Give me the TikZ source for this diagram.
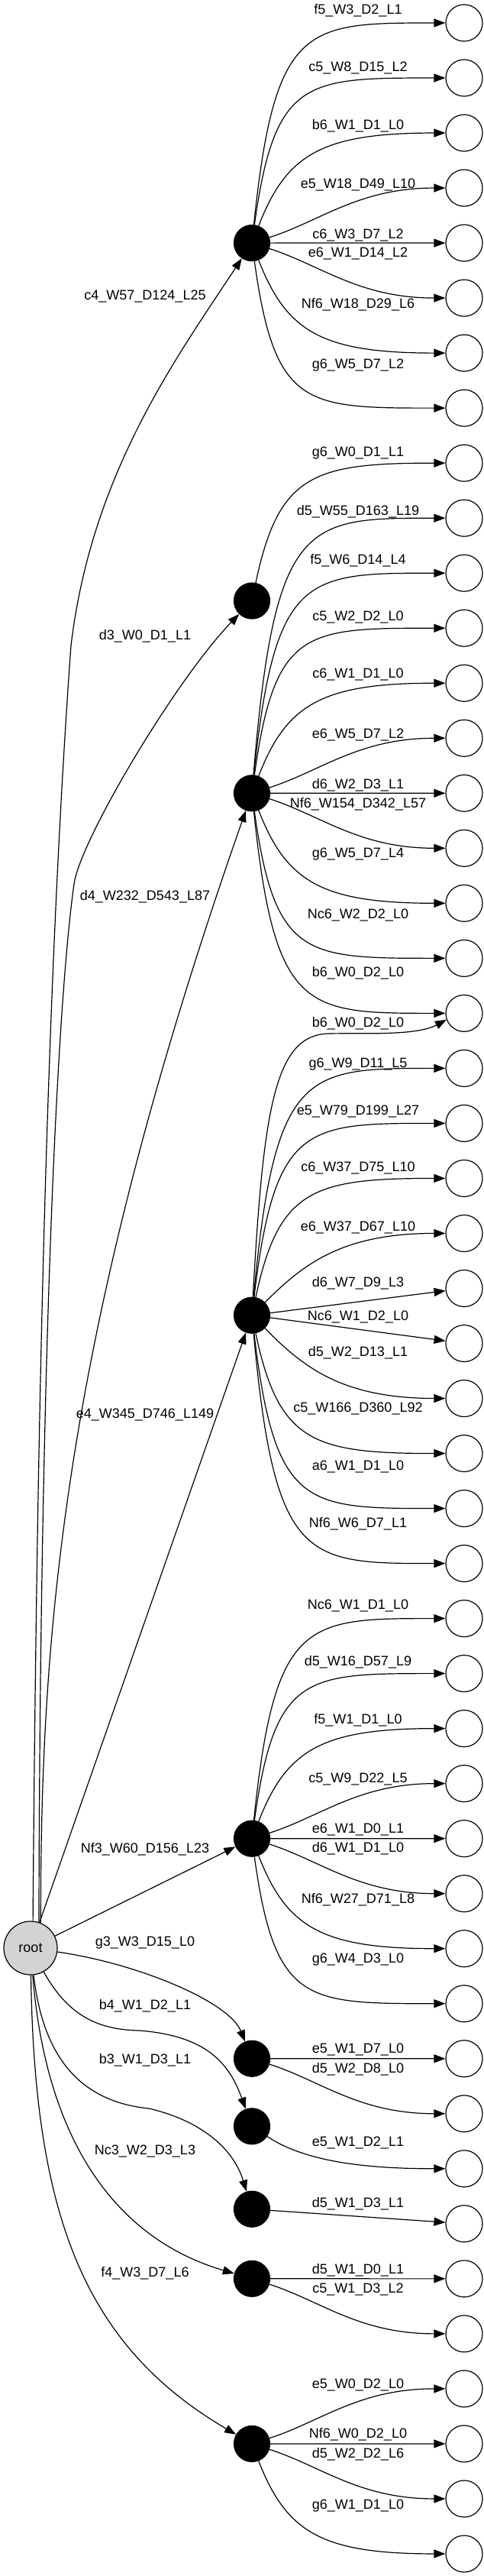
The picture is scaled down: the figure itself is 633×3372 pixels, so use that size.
\documentclass[tikz,border=0pt]{standalone}
\usepackage{fontspec}
\setmainfont{Liberation Sans}
\usetikzlibrary{arrows.meta}
\definecolor{rootgray}{HTML}{D3D3D3}
\tikzset{
  edge/.style={draw=black, line width=1.2pt, -{Triangle[length=15pt,width=11pt]}},
  leaf/.style={circle, draw=black, line width=1.2pt, fill=white, minimum size=48pt, inner sep=0pt},
  hub/.style={circle, draw=black, fill=black, line width=1.2pt, minimum size=47pt, inner sep=0pt},
  rootn/.style={circle, draw=black, line width=1.2pt, fill=rootgray, minimum size=70pt, inner sep=0pt, font=\fontsize{18}{20}\selectfont},
  lab/.style={inner sep=0pt, font=\fontsize{18}{20}\selectfont},
}
% hub -> leaf edge: #1 hub, #2 leaf index, #3 hub y, #4 P1x, #5 f, #6 P2x
\newcommand\hedge[6]{\draw[edge] (#1) .. controls ({#4},{30+72.02*#2+(#3-30-72.02*#2)*#5}) and ({#6},{30+72.02*#2}) .. (L#2);}
\newcommand\ecatA[3]{\hedge{#1}{#2}{#3}{420}{0.6}{470}}
\newcommand\ecatB[3]{\hedge{#1}{#2}{#3}{395}{0.4}{445}}
\newcommand\ecatC[3]{\hedge{#1}{#2}{#3}{375}{0.2}{420}}
\newcommand\ecatD[3]{\hedge{#1}{#2}{#3}{365}{0.08}{410}}
\newcommand\ecatE[3]{\hedge{#1}{#2}{#3}{360}{0}{400}}
\newcommand\rlab[3]{\node[lab] (#1) at (469,#2) {#3};}
\newcommand\llab[3]{\node[lab] (#1) at (190,#2) {#3};}
\begin{document}
\begin{tikzpicture}[x=1pt,y=-1pt]
\useasboundingbox (0,0) rectangle (633,3372);
% leaves
\foreach \i in {0,...,46} \node[leaf] (L\i) at (608,{30+72.02*\i}) {};
% hubs
\node[hub] (H1) at (330,318.1) {};
\node[hub] (H2) at (330,786.5) {};
\node[hub] (H3) at (330,1038.3) {};
\node[hub] (H4) at (330,1721.7) {};
\node[hub] (H5) at (330,2406.7) {};
\node[hub] (H6) at (330,2694.7) {};
\node[hub] (H7) at (330,2783.3) {};
\node[hub] (H8) at (330,2891.7) {};
\node[hub] (H9) at (330,2982.8) {};
\node[hub] (H10) at (330,3198.9) {};
% root
\node[rootn] (root) at (40,2550) {root};
% coordinates for multi-segment edges
\coordinate (c4m) at (93,845);
\coordinate (d3m) at (97,1157);
\coordinate (b4m) at (183,2658);
\coordinate (b3m) at (195,2760);
\coordinate (b6m) at (430,1353);

% root edges
\draw[edge] (root.85) .. controls (48,1900) and (60,1300) .. (c4m) .. controls (120,620) and (230,470) .. (H1);
\draw[edge] (root.72) .. controls (52,1900) and (70,1350) .. (d3m) .. controls (105,1100) and (230,890) .. (H2);
\draw[edge] (root.68) .. controls (53,2150) and (80,1750) .. (H3);
\draw[edge] (root) -- (H4);
\draw[edge] (root) -- (H5);
\draw[edge] (root) .. controls (180,2570) and (300,2620) .. (H6);
\draw[edge] (root) .. controls (90,2640) and (130,2657) .. (b4m) .. controls (270,2665) and (300,2700) .. (H7);
\draw[edge] (root) .. controls (55,2680) and (95,2750) .. (b3m) .. controls (260,2775) and (305,2810) .. (H8);
\draw[edge] (root) .. controls (60,2800) and (150,2930) .. (H9);
\draw[edge] (root) .. controls (45,2900) and (110,3070) .. (H10);

% H1
\ecatE{H1}{0}{318.1}
\ecatE{H1}{1}{318.1}
\ecatC{H1}{2}{318.1}
\ecatA{H1}{3}{318.1}
\draw[edge] (H1) -- (L4);
\ecatA{H1}{5}{318.1}
\ecatC{H1}{6}{318.1}
\ecatE{H1}{7}{318.1}
% H2
\ecatD{H2}{8}{786.5}
% H3
\ecatE{H3}{9}{1038.3}
\ecatE{H3}{10}{1038.3}
\ecatE{H3}{11}{1038.3}
\ecatC{H3}{12}{1038.3}
\ecatA{H3}{13}{1038.3}
\draw[edge] (H3) -- (L14);
\ecatA{H3}{15}{1038.3}
\ecatC{H3}{16}{1038.3}
\ecatE{H3}{17}{1038.3}
\ecatE{H3}{18}{1038.3}
% H4
\draw[edge] (H4) .. controls (345,1450) and (360,1355) .. (b6m) .. controls (480,1352) and (545,1356) .. (L18.200);
\ecatE{H4}{19}{1721.7}
\ecatE{H4}{20}{1721.7}
\ecatD{H4}{21}{1721.7}
\ecatB{H4}{22}{1721.7}
\draw[edge] (H4) -- (L23);
\draw[edge] (H4) -- (L24);
\ecatB{H4}{25}{1721.7}
\ecatD{H4}{26}{1721.7}
\ecatE{H4}{27}{1721.7}
\ecatE{H4}{28}{1721.7}
% H5
\ecatE{H5}{29}{2406.7}
\ecatE{H5}{30}{2406.7}
\ecatC{H5}{31}{2406.7}
\ecatA{H5}{32}{2406.7}
\draw[edge] (H5) -- (L33);
\ecatA{H5}{34}{2406.7}
\ecatC{H5}{35}{2406.7}
\ecatE{H5}{36}{2406.7}
% H6
\draw[edge] (H6) -- (L37);
\ecatA{H6}{38}{2694.7}
% H7
\hedge{H7}{39}{2783.3}{400}{0.16}{480}
% H8
\draw[edge] (H8) -- (L40);
% H9
\draw[edge] (H9) -- (L41);
\ecatA{H9}{42}{2982.8}
% H10
\ecatA{H10}{43}{3198.9}
\draw[edge] (H10) -- (L44);
\ecatA{H10}{45}{3198.9}
\ecatC{H10}{46}{3198.9}

% right labels
\rlab{r1}{14}{f5\_W3\_D2\_L1}
\rlab{r2}{89.3}{c5\_W8\_D15\_L2}
\rlab{r3}{164.3}{b6\_W1\_D1\_L0}
\rlab{r4}{242.3}{e5\_W18\_D49\_L10}
\rlab{r5}{307.7}{c6\_W3\_D7\_L2}
\rlab{r6}{332.3}{e6\_W1\_D14\_L2}
\rlab{r7}{399}{Nf6\_W18\_D29\_L6}
\rlab{r8}{478.3}{g6\_W5\_D7\_L2}
\rlab{r9}{593.3}{g6\_W0\_D1\_L1}
\rlab{r10}{670}{d5\_W55\_D163\_L19}
\rlab{r11}{734}{f5\_W6\_D14\_L4}
\rlab{r12}{808.3}{c5\_W2\_D2\_L0}
\rlab{r13}{883.3}{c6\_W1\_D1\_L0}
\rlab{r14}{961.7}{e6\_W5\_D7\_L2}
\rlab{r15}{1027.3}{d6\_W2\_D3\_L1}
\rlab{r16}{1052.3}{Nf6\_W154\_D342\_L57}
\rlab{r17}{1118.3}{g6\_W5\_D7\_L4}
\rlab{r18}{1197.7}{Nc6\_W2\_D2\_L0}
\rlab{r19}{1273.3}{b6\_W0\_D2\_L0}
\rlab{r20}{1339.3}{b6\_W0\_D2\_L0}
\rlab{r21}{1393.3}{g6\_W9\_D11\_L5}
\rlab{r22}{1455}{e5\_W79\_D199\_L27}
\rlab{r23}{1529.3}{c6\_W37\_D75\_L10}
\rlab{r24}{1606.7}{e6\_W37\_D67\_L10}
\rlab{r25}{1680}{d6\_W7\_D9\_L3}
\rlab{r26}{1724}{Nc6\_W1\_D2\_L0}
\rlab{r27}{1770.7}{d5\_W2\_D13\_L1}
\rlab{r28}{1844.3}{c5\_W166\_D360\_L92}
\rlab{r29}{1920}{a6\_W1\_D1\_L0}
\rlab{r30}{1995}{Nf6\_W6\_D7\_L1}
\rlab{r31}{2101.7}{Nc6\_W1\_D1\_L0}
\rlab{r32}{2176}{d5\_W16\_D57\_L9}
\rlab{r33}{2251.7}{f5\_W1\_D1\_L0}
\rlab{r34}{2329.3}{c5\_W9\_D22\_L5}
\rlab{r35}{2395}{e6\_W1\_D0\_L1}
\rlab{r36}{2420}{d6\_W1\_D1\_L0}
\rlab{r37}{2486.7}{Nf6\_W27\_D71\_L8}
\rlab{r38}{2565}{g6\_W4\_D3\_L0}
\rlab{r39}{2683.3}{e5\_W1\_D7\_L0}
\rlab{r40}{2708.3}{d5\_W2\_D8\_L0}
\rlab{r41}{2805}{e5\_W1\_D2\_L1}
\rlab{r42}{2884.3}{d5\_W1\_D3\_L1}
\rlab{r43}{2971.7}{d5\_W1\_D0\_L1}
\rlab{r44}{2996.7}{c5\_W1\_D3\_L2}
\rlab{r45}{3121.7}{e5\_W0\_D2\_L0}
\rlab{r46}{3186.7}{Nf6\_W0\_D2\_L0}
\rlab{r47}{3212.7}{d5\_W2\_D2\_L6}
\rlab{r48}{3280}{g6\_W1\_D1\_L0}
% left labels
\llab{q1}{387.7}{c4\_W57\_D124\_L25}
\llab{q2}{833}{d3\_W0\_D1\_L1}
\llab{q3}{1173.3}{d4\_W232\_D543\_L87}
\llab{q4}{1851.7}{e4\_W345\_D746\_L149}
\llab{q5}{2420.7}{Nf3\_W60\_D156\_L23}
\llab{q6}{2542.7}{g3\_W3\_D15\_L0}
\llab{q7}{2626}{b4\_W1\_D2\_L1}
\llab{q8}{2696.7}{b3\_W1\_D3\_L1}
\llab{q9}{2816}{Nc3\_W2\_D3\_L3}
\llab{q10}{2976}{f4\_W3\_D7\_L6}
\end{tikzpicture}
\end{document}
